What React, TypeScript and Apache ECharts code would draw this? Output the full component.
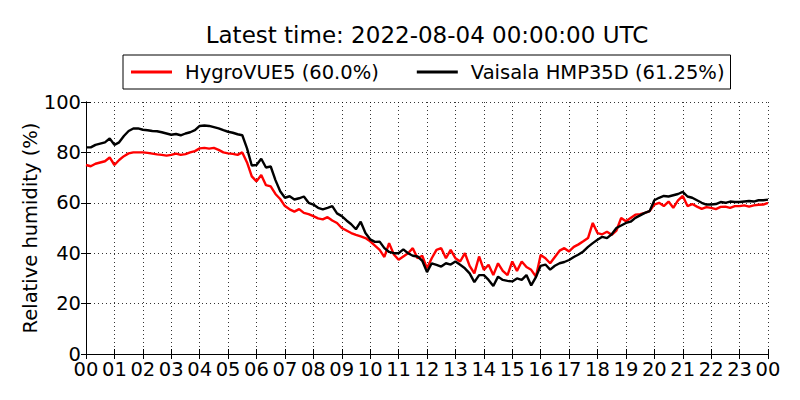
import React, { useEffect, useRef } from "react";
import * as echarts from "echarts";

const TITLE = "Latest time: 2022-08-04 00:00:00 UTC";
const SERIES_NAMES = ["HygroVUE5 (60.0%)", "Vaisala HMP35D (61.25%)"];
const HOUR_LABELS = [
  "00", "01", "02", "03", "04", "05", "06", "07", "08", "09", "10", "11",
  "12", "13", "14", "15", "16", "17", "18", "19", "20", "21", "22", "23", "00",
];
const Y_TICKS = [0, 20, 40, 60, 80, 100];
const STEP_MINUTES = 10;

// HygroVUE5, every 10 minutes from 00:00 to 24:00
const hygrovue = [
  75, 74.5, 75.5, 76, 76.5, 78,
  75, 77, 78.5, 79.6, 80, 80,
  80, 79.8, 79.5, 79.2, 79, 78.7,
  79, 79.5, 79, 79.3, 80, 80.5,
  81.6, 81.8, 81.5, 81.8, 81, 80,
  79.6, 79.4, 79, 80, 76, 70.5,
  68.5, 71, 67, 66.5, 63.5, 61.5,
  58.7, 57.4, 56.5, 57.5, 56, 55.5,
  54.7, 53.8, 53.4, 54.3, 53, 52,
  50, 49, 48, 47.3, 46.7, 46,
  44.7, 43, 41.3, 38.5, 44, 39.5,
  37.4, 38.7, 40, 42, 38, 39,
  34, 38, 41.3, 42, 38, 41.3,
  38, 36.7, 40, 35, 32, 38.7,
  33.4, 35.4, 31.3, 36, 33, 31.3,
  36.7, 33, 36.7, 34.5, 33.4, 30.7,
  39.3, 38, 36, 38.5, 41, 42,
  40.7, 42.5, 43.5, 44.7, 46, 52,
  48, 47.5, 48.5, 47.3, 49, 54,
  52.7, 54, 55.3, 55.5, 56, 56.7,
  59.3, 60, 58.7, 60.5, 58, 61,
  62.7, 58.7, 59.5, 58.5, 57.6, 58.3,
  58, 57.5, 58.4, 58.5, 58, 58.7,
  58.7, 59, 58.5, 59, 59.2, 59.3,
  60,
];

// Vaisala HMP35D, every 10 minutes from 00:00 to 24:00
const vaisala = [
  82, 82, 83, 83.5, 84, 85.5,
  83, 84, 86.5, 88.5, 89.5, 89.5,
  89, 88.8, 88.5, 88.4, 88, 87.5,
  87, 87.3, 86.8, 87.5, 88, 88.8,
  90.5, 90.7, 90.5, 90, 89.5, 88.8,
  88.2, 87.8, 87.2, 86.8, 81.6, 74.8,
  75, 77.5, 74, 74.4, 69, 64.6,
  62, 62.6, 61.3, 61.8, 62.5, 60,
  59.3, 58, 57.4, 58, 58.7, 55.8,
  54.7, 53, 51.5, 49.5, 52.5, 48,
  45.5, 44.5, 44.6, 42, 40.5, 40,
  40, 41.5, 40, 39, 38.7, 37,
  32.5, 36, 35.4, 34.7, 36, 35.5,
  36.7, 35.4, 34, 32, 28.5, 31.3,
  31.3, 29.4, 27, 30.7, 29.4, 29,
  28.8, 30, 29.4, 31.3, 27.2, 30.5,
  35, 35.5, 33.5, 35, 36, 36.5,
  37.3, 38.5, 39.5, 40.7, 42.5, 44,
  45.3, 46.5, 46, 47.5, 50, 51,
  52, 52.5, 54, 55, 56, 56.7,
  61, 62, 62.7, 62.5, 63, 63.5,
  64.3, 62.5, 62, 61, 60, 59.3,
  59.3, 59.5, 60.3, 60, 60.5, 60.3,
  60.3, 60.5, 60.7, 60.5, 61, 61,
  61.25,
];

const FONT = "DejaVu Sans";
const FS = 19.5;

const toPairs = (vals: number[]) =>
  vals.map((v, i) => [(i * STEP_MINUTES) / 60, v]);

export default function App() {
  const ref = useRef<HTMLDivElement>(null);
  useEffect(() => {
    if (!ref.current) return;
    document.body.style.margin = "0";
    const chart = echarts.init(ref.current, undefined, { renderer: "svg" });
    const tick = { show: true, inside: true, length: 5, lineStyle: { color: "#000", width: 1 } };
    const axisLine = { show: true, lineStyle: { color: "#000", width: 1 } };
    const split = { show: true, lineStyle: { color: "#000", width: 0.8, type: [1, 3] as any } };
    chart.setOption({
      animation: false,
      backgroundColor: "#fff",
      textStyle: { fontFamily: FONT },
      title: {
        text: TITLE,
        left: 427,
        textAlign: "center",
        top: 23,
        padding: 0,
        textStyle: { fontFamily: FONT, fontSize: 23, fontWeight: "normal", color: "#000" },
      },
      legend: {
        left: 123,
        top: 55,
        padding: [7, 6, 7, 8],
        borderColor: "#000",
        borderWidth: 1,
        borderRadius: 0,
        backgroundColor: "#fff",
        itemGap: 38,
        itemWidth: 41,
        itemHeight: 3,
        icon: "rect",
        textStyle: { fontFamily: FONT, fontSize: FS, color: "#000", lineHeight: 20, padding: [0, 0, 0, 8] },
        data: SERIES_NAMES,
      },
      grid: { left: 86, right: 32, top: 102, bottom: 46, containLabel: false },
      xAxis: [
        {
          type: "value",
          min: 0,
          max: 24,
          interval: 1,
          axisLine,
          axisTick: tick,
          splitLine: split,
          axisLabel: {
            margin: 5,
            fontFamily: FONT,
            fontSize: FS,
            color: "#000",
            formatter: (v: number) => HOUR_LABELS[Math.round(v)] ?? "",
          },
        },
        {
          type: "value",
          position: "top",
          min: 0,
          max: 24,
          interval: 1,
          axisLine,
          axisTick: tick,
          splitLine: { show: false },
          axisLabel: { show: false },
        },
      ],
      yAxis: [
        {
          type: "value",
          min: Y_TICKS[0],
          max: Y_TICKS[Y_TICKS.length - 1],
          interval: Y_TICKS[1] - Y_TICKS[0],
          name: "Relative humidity (%)",
          nameLocation: "middle",
          nameGap: 46,
          nameMoveOverlap: false,
          nameTextStyle: { fontFamily: FONT, fontSize: FS, color: "#000" },
          axisLine,
          axisTick: tick,
          splitLine: split,
          axisLabel: { margin: 5, fontFamily: FONT, fontSize: FS, color: "#000" },
        },
        {
          type: "value",
          position: "right",
          min: Y_TICKS[0],
          max: Y_TICKS[Y_TICKS.length - 1],
          interval: Y_TICKS[1] - Y_TICKS[0],
          axisLine,
          axisTick: tick,
          splitLine: { show: false },
          axisLabel: { show: false },
        },
      ],
      series: [
        {
          name: SERIES_NAMES[0],
          type: "line",
          data: toPairs(hygrovue),
          symbol: "none",
          showSymbol: false,
          lineStyle: { color: "#ff0000", width: 2.4 },
          itemStyle: { color: "#ff0000" },
        },
        {
          name: SERIES_NAMES[1],
          type: "line",
          data: toPairs(vaisala),
          symbol: "none",
          showSymbol: false,
          lineStyle: { color: "#000000", width: 2.4 },
          itemStyle: { color: "#000000" },
        },
      ],
    });
    return () => chart.dispose();
  }, []);
  return (
    <div
      ref={ref}
      style={{ position: "absolute", left: 0, top: 0, width: 800, height: 400 }}
    />
  );
}
